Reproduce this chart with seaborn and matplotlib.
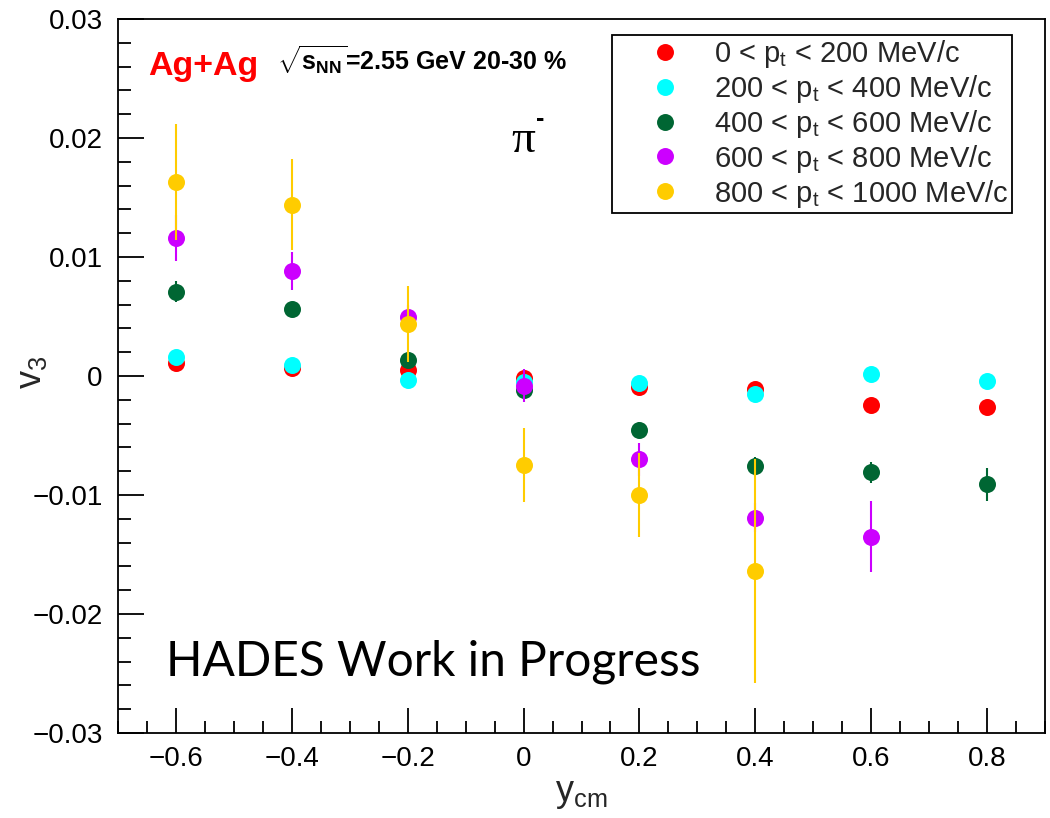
import numpy as np
import pandas as pd
import matplotlib
matplotlib.use("Agg")
import matplotlib.pyplot as plt
from matplotlib.ticker import MultipleLocator, FuncFormatter
from matplotlib.lines import Line2D
import seaborn as sns

# ---------------- data ----------------
series_labels = [
    r"0 < p$_{t}$ < 200 MeV/c",
    r"200 < p$_{t}$ < 400 MeV/c",
    r"400 < p$_{t}$ < 600 MeV/c",
    r"600 < p$_{t}$ < 800 MeV/c",
    r"800 < p$_{t}$ < 1000 MeV/c",
]
series_colors = ["#ff0000", "#00ffff", "#006633", "#cc00ff", "#ffcc00"]

y_red = [-0.6, -0.4, -0.2, 0.0, 0.2, 0.4, 0.6, 0.8]
v3_red = [0.0011, 0.0007, 0.0005, -0.0002, -0.0009, -0.0011, -0.0024, -0.0026]
err_red = [0.0003, 0.0003, 0.0003, 0.0003, 0.0003, 0.0003, 0.0003, 0.0003]

y_cyan = [-0.6, -0.4, -0.2, 0.0, 0.2, 0.4, 0.6, 0.8]
v3_cyan = [0.0016, 0.0009, -0.0003, -0.0005, -0.0006, -0.0015, 0.0002, -0.0004]
err_cyan = [0.0003, 0.0003, 0.0003, 0.0003, 0.0003, 0.0003, 0.0003, 0.0003]

y_green = [-0.6, -0.4, -0.2, 0.0, 0.2, 0.4, 0.6, 0.8]
v3_green = [0.0071, 0.0056, 0.00135, -0.0012, -0.0045, -0.0076, -0.0081, -0.0091]
err_green = [0.0009, 0.0006, 0.0007, 0.0006, 0.0006, 0.0008, 0.0009, 0.0014]

y_magenta = [-0.6, -0.4, -0.2, 0.0, 0.2, 0.4, 0.6]
v3_magenta = [0.0116, 0.0088, 0.0050, -0.0008, -0.0070, -0.0119, -0.0135]
err_magenta = [0.0019, 0.0016, 0.0010, 0.0014, 0.0014, 0.0012, 0.0030]

y_yellow = [-0.6, -0.4, -0.2, 0.0, 0.2, 0.4]
v3_yellow = [0.0163, 0.0144, 0.0044, -0.0075, -0.0100, -0.0164]
err_yellow = [0.0049, 0.0038, 0.0032, 0.0031, 0.0035, 0.0094]

x_ticks = [-0.6, -0.4, -0.2, 0.0, 0.2, 0.4, 0.6, 0.8]
y_ticks = [-0.03, -0.02, -0.01, 0.0, 0.01, 0.02, 0.03]

series = [
    (y_red, v3_red, err_red),
    (y_cyan, v3_cyan, err_cyan),
    (y_green, v3_green, err_green),
    (y_magenta, v3_magenta, err_magenta),
    (y_yellow, v3_yellow, err_yellow),
]

frames = []
for lab, (xs, vs, es) in zip(series_labels, series):
    frames.append(pd.DataFrame({"y_cm": xs, "v3": vs, "err": es, "bin": lab}))
df = pd.concat(frames, ignore_index=True)
palette = dict(zip(series_labels, series_colors))

# ---------------- style ----------------
sns.set_theme(style="white")
plt.rcParams["font.family"] = ["Liberation Sans", "DejaVu Sans"]
plt.rcParams["mathtext.fontset"] = "custom"
plt.rcParams["mathtext.rm"] = "Liberation Sans"
plt.rcParams["mathtext.it"] = "Liberation Sans:italic"
plt.rcParams["mathtext.bf"] = "Liberation Sans:bold"
plt.rcParams["mathtext.sf"] = "Liberation Sans"
plt.rcParams["mathtext.default"] = "regular"

W, H = 1050, 818
fig = plt.figure(figsize=(W / 100, H / 100), dpi=100)
L, R, T, B = 118, 1045, 19, 733
ax = fig.add_axes([L / W, 1 - B / H, (R - L) / W, (B - T) / H])

for i, lab in enumerate(series_labels):
    d = df[df["bin"] == lab]
    ax.errorbar(d["y_cm"], d["v3"], yerr=d["err"], fmt="none",
                ecolor=palette[lab], elinewidth=1.5, capsize=0, zorder=2 + 2 * i)
    sns.scatterplot(data=d, x="y_cm", y="v3", color=palette[lab], s=150,
                    linewidth=0, ax=ax, zorder=3 + 2 * i, legend=False)

ax.set_xlim(-0.7, 0.9)
ax.set_ylim(-0.03, 0.03)
ax.set_xticks(x_ticks)
ax.set_yticks(y_ticks)
ax.xaxis.set_minor_locator(MultipleLocator(0.05))
ax.yaxis.set_minor_locator(MultipleLocator(0.002))

ax.xaxis.set_major_formatter(FuncFormatter(lambda v, p: "0" if abs(v) < 1e-9 else f"{v:.1f}".replace("-", "\u2212")))
ax.yaxis.set_major_formatter(FuncFormatter(lambda v, p: "0" if abs(v) < 1e-9 else f"{v:.2f}".replace("-", "\u2212")))

ax.tick_params(axis="both", which="both", direction="in", bottom=True, left=True,
               top=False, right=False, colors="black", width=1.3, labelsize=20)
ax.tick_params(axis="y", which="major", length=19, pad=11)
ax.tick_params(axis="y", which="minor", length=9.5)
ax.tick_params(axis="x", which="major", length=18, pad=9)
ax.tick_params(axis="x", which="minor", length=9)
for sp in ax.spines.values():
    sp.set_color("black")
    sp.set_linewidth(1.3)

ax.set_xlabel(r"y$_{cm}$", fontsize=26)
ax.set_ylabel(r"v$_{3}$", fontsize=26)
ax.xaxis.set_label_coords(0.5, -0.06)
ax.yaxis.set_label_coords(-0.074, 0.505)

# legend
handles = [Line2D([], [], marker="o", ls="", color=c, markersize=12.2, markeredgewidth=0)
           for c in series_colors]
leg = ax.legend(handles, series_labels, loc="upper left",
                bbox_to_anchor=((612 - L) / (R - L), (B - 35) / (B - T)),
                borderaxespad=0, fontsize=21, frameon=True, fancybox=False,
                framealpha=1, edgecolor="black", borderpad=0.1,
                handlelength=3.4, handletextpad=0.0, labelspacing=0.1)
leg.get_frame().set_linewidth(1.3)

# annotations
fig.text(148 / W, 1 - 75 / H, "Ag+Ag", color="#ff0000", fontsize=24.5,
         fontweight="bold", va="baseline", ha="left")
fig.text(277 / W, 1 - 71 / H, r"$\sqrt{\mathbf{s}_{\mathbf{NN}}}$=2.55 GeV 20-30 %",
         color="black", fontsize=18, fontweight="bold", va="baseline", ha="left")
fig.text(511 / W, 1 - 152 / H, "\u03c0", family="Liberation Serif", fontsize=34,
         va="baseline", ha="left", color="black")
fig.text(536 / W, 1 - 126 / H, "-", fontsize=18, fontweight="bold",
         va="baseline", ha="left", color="black")
fig.text(166 / W, 1 - 675 / H, "HADES Work in Progress", family="Lato",
         fontsize=34.5, va="baseline", ha="left", color="black")

fig.savefig("out.png", dpi=100, facecolor="white")
